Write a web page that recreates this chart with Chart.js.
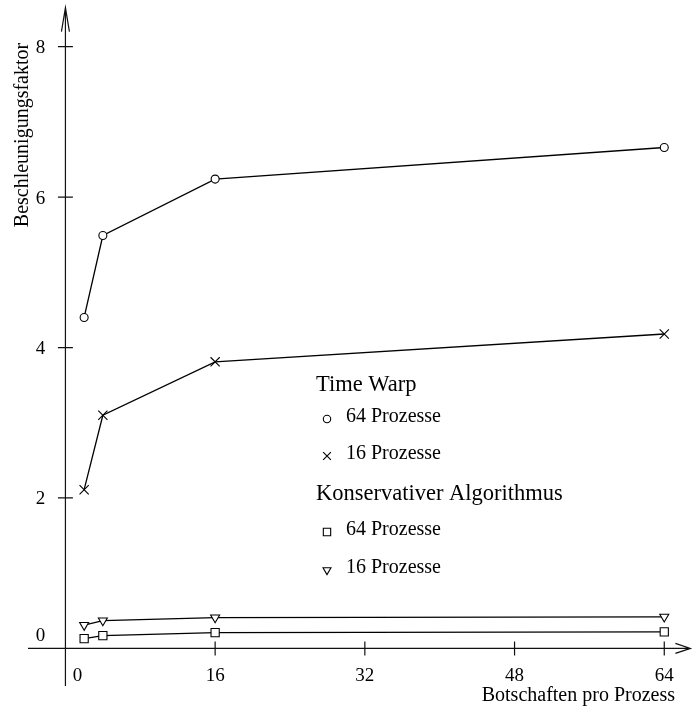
<!DOCTYPE html>
<html>
<head>
<meta charset="utf-8">
<script src="https://cdn.jsdelivr.net/npm/chart.js@4.4.0/dist/chart.umd.min.js"></script>
<style>
  html, body { margin: 0; padding: 0; background: #fff; }
  #wrap { width: 699px; height: 709px; }
</style>
</head>
<body>
<div id="wrap"><canvas id="mycanvas"></canvas></div>
<script>
// Botschaften pro Prozess
var messages = [2, 4, 16, 64];

// Beschleunigungsfaktor
var twProc64 = [4.40, 5.49, 6.24, 6.66];
var twProc16 = [2.11, 3.10, 3.81, 4.18];
var konsProc64 = [0.13, 0.17, 0.21, 0.22];
var konsProc16 = [0.31, 0.37, 0.41, 0.42];

var xTicks = [0, 16, 32, 48, 64];
var yTicks = [0, 2, 4, 6, 8];

var xTitle = 'Botschaften pro Prozess';
var yTitle = 'Beschleunigungsfaktor';
var groupTW = 'Time Warp';
var groupKons = 'Konservativer Algorithmus';
var label64 = '64 Prozesse';
var label16 = '16 Prozesse';

function pts(vals) {
	var out = [];
	for (var i in messages) {
		out.push({x: messages[i], y: vals[i]});
	}
	return out;
}

function series(label, vals, style, r, rot) {
	return {
		label: label,
		data: pts(vals),
		showLine: true,
		borderColor: '#000',
		borderWidth: 1.3,
		backgroundColor: '#fff',
		pointStyle: style,
		pointRadius: r,
		pointRotation: rot || 0,
		pointBorderColor: '#000',
		pointBackgroundColor: '#fff',
		pointBorderWidth: 1.1,
		clip: false
	};
}

var serif = '"Liberation Serif", "Times New Roman", serif';

var axesPlugin = {
	id: 'axesPlugin',
	beforeDatasetsDraw: function(chart) {
		var ctx = chart.ctx;
		var area = chart.chartArea;
		var xs = chart.scales.x, ys = chart.scales.y;
		var x0 = xs.getPixelForValue(0);
		var y0 = ys.getPixelForValue(0);

		ctx.save();
		ctx.strokeStyle = '#111';
		ctx.lineWidth = 1.2;

		// x axis with open arrow
		ctx.beginPath();
		ctx.moveTo(area.left, y0);
		ctx.lineTo(area.right - 1, y0);
		ctx.moveTo(area.right - 16, y0 - 5);
		ctx.lineTo(area.right - 1, y0);
		ctx.lineTo(area.right - 16, y0 + 5);
		ctx.stroke();

		// y axis with open arrow
		ctx.beginPath();
		ctx.moveTo(x0, area.bottom);
		ctx.lineTo(x0, area.top);
		ctx.moveTo(x0 - 4, area.top + 24);
		ctx.lineTo(x0, area.top);
		ctx.lineTo(x0 + 4, area.top + 24);
		ctx.stroke();

		// tick marks
		ctx.beginPath();
		for (var i in xTicks) {
			if (xTicks[i] === 0) continue;
			var px = xs.getPixelForValue(xTicks[i]);
			ctx.moveTo(px, y0 - 7);
			ctx.lineTo(px, y0 + 7);
		}
		for (var j in yTicks) {
			if (yTicks[j] === 0) continue;
			var py = ys.getPixelForValue(yTicks[j]);
			ctx.moveTo(x0 - 7.5, py);
			ctx.lineTo(x0 + 7.5, py);
		}
		ctx.stroke();

		// tick labels
		ctx.fillStyle = '#000';
		ctx.font = '19px ' + serif;
		ctx.textAlign = 'center';
		ctx.textBaseline = 'middle';
		for (var k in xTicks) {
			var lx = xs.getPixelForValue(xTicks[k]);
			if (xTicks[k] === 0) lx += 12;
			ctx.fillText(String(xTicks[k]), lx, y0 + 28);
		}
		for (var m in yTicks) {
			var ly = ys.getPixelForValue(yTicks[m]) + 1.5;
			if (yTicks[m] === 0) ly = y0 - 12;
			ctx.fillText(String(yTicks[m]), x0 - 25, ly);
		}

		// axis titles
		ctx.font = '20px ' + serif;
		ctx.textAlign = 'right';
		ctx.fillText(xTitle, 675, y0 + 47);
		ctx.save();
		ctx.translate(23, 135);
		ctx.rotate(-Math.PI / 2);
		ctx.textAlign = 'center';
		ctx.fillText(yTitle, 0, 0);
		ctx.restore();

		// legend
		var rows = [
			{text: groupTW, y: 385},
			{text: label64, y: 417, style: 'circle', r: 3.7},
			{text: label16, y: 454, style: 'crossRot', r: 5.5},
			{text: groupKons, y: 494},
			{text: label64, y: 530, style: 'rect', r: 5.2},
			{text: label16, y: 568, style: 'triangle', r: 4.6, rot: 180}
		];
		ctx.textAlign = 'left';
		for (var n in rows) {
			var row = rows[n];
			if (row.style) {
				ctx.fillStyle = '#fff';
				ctx.strokeStyle = '#000';
				ctx.lineWidth = 1.1;
				Chart.helpers.drawPoint(ctx, {
					pointStyle: row.style, radius: row.r, rotation: row.rot || 0, borderWidth: 1.1
				}, 327, row.y + 2);
				ctx.fillStyle = '#000';
				ctx.font = '20px ' + serif;
				ctx.fillText(row.text, 346, row.y);
			} else {
				ctx.fillStyle = '#000';
				ctx.font = '22.5px ' + serif;
				ctx.fillText(row.text, 316, row.y);
			}
		}
		ctx.restore();
	}
};

var ctx = document.getElementById('mycanvas');

var chart = new Chart(ctx, {
	type: 'scatter',
	data: {
		datasets: [
			series(groupTW + ' ' + label64, twProc64, 'circle', 4),
			series(groupTW + ' ' + label16, twProc16, 'crossRot', 6.5),
			series(groupKons + ' ' + label64, konsProc64, 'rect', 5.8),
			series(groupKons + ' ' + label16, konsProc16, 'triangle', 5.2, 180)
		]
	},
	options: {
		responsive: true,
		maintainAspectRatio: false,
		animation: false,
		layout: { padding: { left: 28, right: 1, top: 6, bottom: 23 } },
		plugins: {
			legend: { display: false },
			tooltip: { enabled: false }
		},
		scales: {
			x: { type: 'linear', min: -4, max: 66.9, display: false },
			y: { type: 'linear', min: -0.5, max: 8.52, display: false }
		}
	},
	plugins: [axesPlugin]
});
</script>
</body>
</html>
